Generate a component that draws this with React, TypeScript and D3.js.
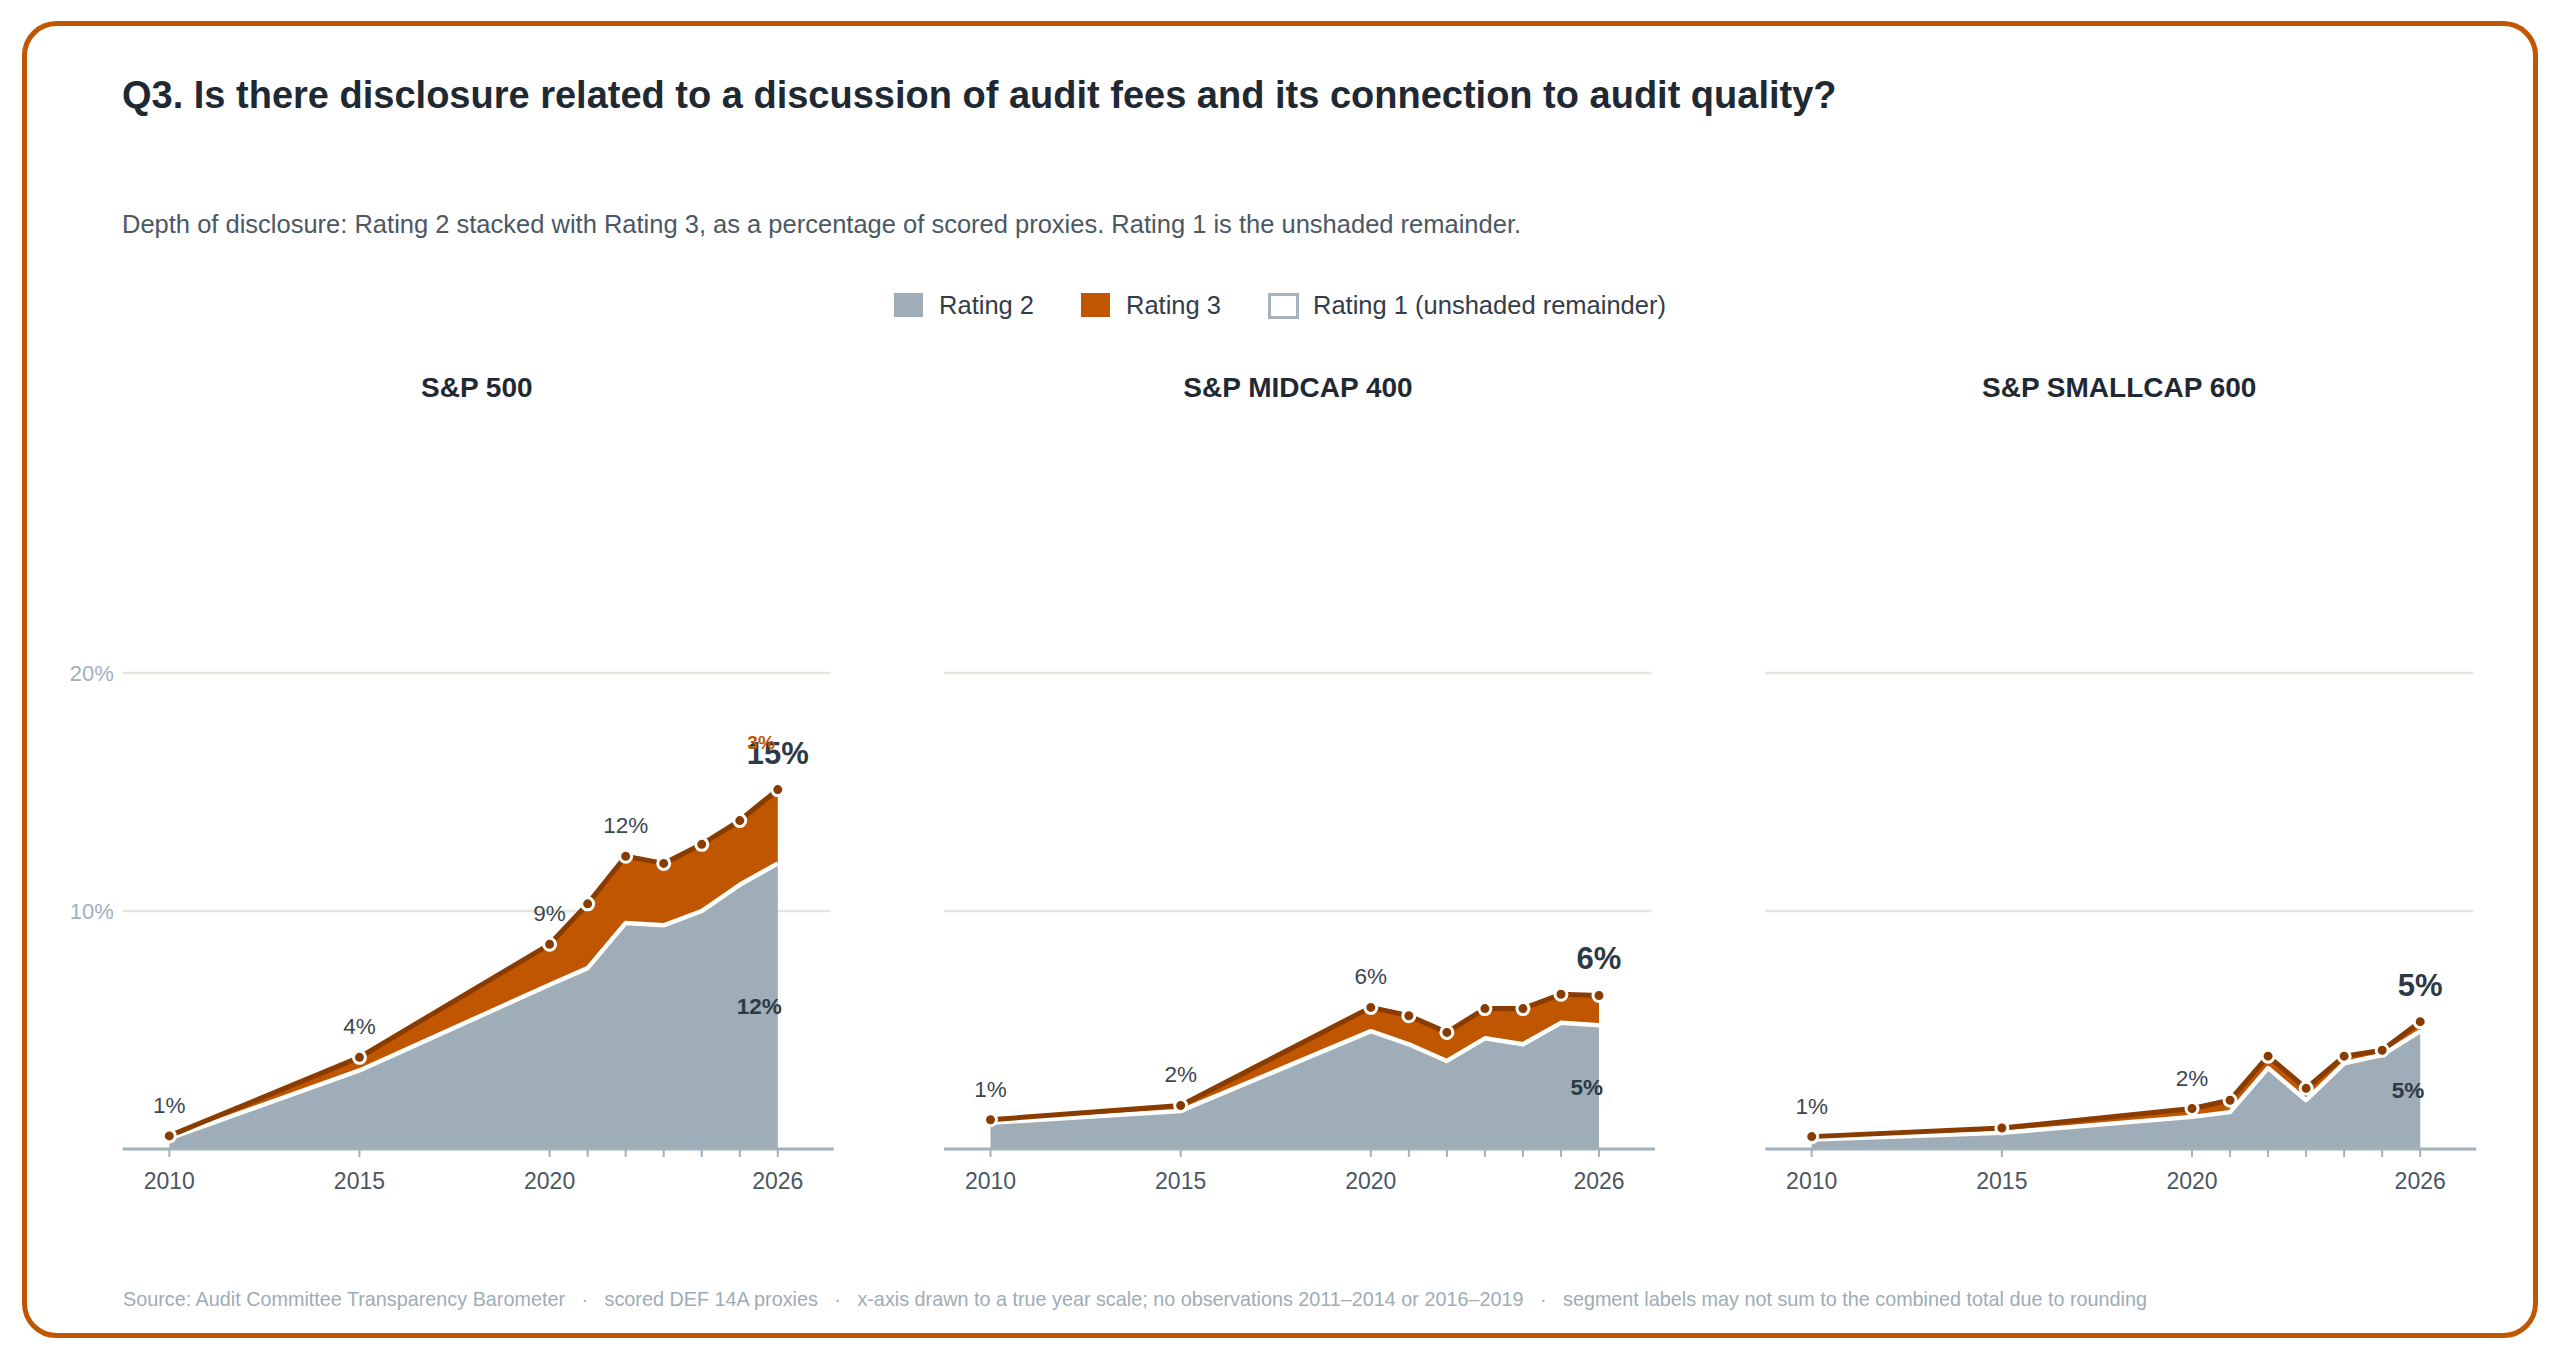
import React, { useEffect, useRef } from 'react';
import * as d3 from 'd3';

const years = [2010, 2015, 2020, 2021, 2022, 2023, 2024, 2025, 2026];
const panelNames = ['S&P 500', 'S&P MIDCAP 400', 'S&P SMALLCAP 600'];

// share of scored proxies, in percent
const sp500Rating2 = [0.45, 3.3, 6.9, 7.6, 9.5, 9.4, 10.0, 11.1, 12.0];
const sp500Rating3 = [0.1, 0.55, 1.7, 2.7, 2.8, 2.6, 2.8, 2.7, 3.1];
const midcapRating2 = [1.1, 1.6, 4.95, 4.4, 3.7, 4.65, 4.4, 5.3, 5.2];
const midcapRating3 = [0.13, 0.23, 1.0, 1.2, 1.2, 1.25, 1.5, 1.2, 1.25];
const smallcapRating2 = [0.4, 0.68, 1.35, 1.55, 3.4, 2.05, 3.6, 3.95, 4.95];
const smallcapRating3 = [0.12, 0.2, 0.35, 0.5, 0.5, 0.5, 0.3, 0.2, 0.4];

// years that carry a point label (the last year always gets the big one)
const labelledYears = [
  [2010, 2015, 2020, 2022],
  [2010, 2015, 2020],
  [2010, 2020],
];
const showRating3Label = [true, false, false];

const yTicks = [10, 20];
const xTickLabels = [2010, 2015, 2020, 2026];
const legendItems = ['Rating 2', 'Rating 3', 'Rating 1 (unshaded remainder)'];

const title =
  'Q3. Is there disclosure related to a discussion of audit fees and its connection to audit quality?';
const subtitle =
  'Depth of disclosure: Rating 2 stacked with Rating 3, as a percentage of scored proxies. Rating 1 is the unshaded remainder.';
const footer = [
  'Source: Audit Committee Transparency Barometer',
  'scored DEF 14A proxies',
  'x-axis drawn to a true year scale; no observations 2011–2014 or 2016–2019',
  'segment labels may not sum to the combined total due to rounding',
].join('\u00a0\u00a0 · \u00a0\u00a0');

const FONT = '"Liberation Sans", Arial, Helvetica, sans-serif';
const ORANGE = '#c05600';
const BROWN = '#8a3c00';
const GREY = '#9eadb7';
const INK = '#1f2933';

const App: React.FC = () => {
  const ref = useRef<SVGSVGElement>(null);

  useEffect(() => {
    document.body.style.margin = '0';
    const svg = d3.select(ref.current!);
    svg.selectAll('*').remove();

    const W = 2560;
    const H = 1360;
    svg.attr('width', W).attr('height', H).style('display', 'block');

    svg
      .append('rect')
      .attr('x', 24.5)
      .attr('y', 23.5)
      .attr('width', W - 49)
      .attr('height', H - 48)
      .attr('rx', 32)
      .attr('fill', '#fff')
      .attr('stroke', ORANGE)
      .attr('stroke-width', 5);

    svg
      .append('text')
      .attr('x', 122)
      .attr('y', 108)
      .attr('font-family', FONT)
      .attr('font-size', 38)
      .attr('font-weight', 700)
      .attr('fill', INK)
      .text(title);

    svg
      .append('text')
      .attr('x', 122)
      .attr('y', 233)
      .attr('font-family', FONT)
      .attr('font-size', 25.5)
      .attr('fill', '#4b5863')
      .text(subtitle);

    // Legend, centred on the page
    const legend = svg.append('g');
    let lx = 0;
    legendItems.forEach((name, i) => {
      const g = legend.append('g').attr('transform', `translate(${lx},0)`);
      g.append('rect')
        .attr('x', i === 2 ? 1.5 : 0)
        .attr('y', i === 2 ? 1.5 : 0)
        .attr('width', i === 2 ? 28 : 29)
        .attr('height', i === 2 ? 23 : 24)
        .attr('fill', i === 0 ? GREY : i === 1 ? ORANGE : '#fff')
        .attr('stroke', i === 2 ? '#a7b4be' : 'none')
        .attr('stroke-width', 3);
      const t = g
        .append('text')
        .attr('x', 45)
        .attr('y', 20.5)
        .attr('font-family', FONT)
        .attr('font-size', 25.5)
        .attr('fill', '#333d47')
        .text(name);
      const tw = (t.node() as SVGTextElement).getComputedTextLength();
      lx += 45 + tw + 47;
    });
    const legendWidth = lx - 47;
    legend.attr('transform', `translate(${(W - legendWidth) / 2},293)`);

    const rating2 = [sp500Rating2, midcapRating2, smallcapRating2];
    const rating3 = [sp500Rating3, midcapRating3, smallcapRating3];

    const y = d3.scaleLinear().domain([0, 20]).range([1149, 673]);
    const panelWidth = 708;

    panelNames.forEach((name, p) => {
      const left = 122.8 + p * 821.2;
      const right = left + panelWidth;
      const x = d3
        .scaleLinear()
        .domain([2010, 2026])
        .range([left + 46.5, left + 655]);

      const data = years.map((year, i) => ({
        year,
        r2: rating2[p][i],
        r3: rating3[p][i],
        total: rating2[p][i] + rating3[p][i],
      }));
      type Row = (typeof data)[number];

      const g = svg.append('g');

      g.append('text')
        .attr('x', (left + right) / 2)
        .attr('y', 396.5)
        .attr('text-anchor', 'middle')
        .attr('font-family', FONT)
        .attr('font-size', 28)
        .attr('font-weight', 700)
        .attr('fill', INK)
        .text(name);

      // gridlines
      g.selectAll('.grid')
        .data(yTicks)
        .enter()
        .append('line')
        .attr('x1', left)
        .attr('x2', right)
        .attr('y1', (d) => y(d))
        .attr('y2', (d) => y(d))
        .attr('stroke', '#e6e6e0')
        .attr('stroke-width', 2.5);

      if (p === 0) {
        g.selectAll('.ylab')
          .data(yTicks)
          .enter()
          .append('text')
          .attr('x', left - 9)
          .attr('y', (d) => y(d))
          .attr('dy', '0.35em')
          .attr('text-anchor', 'end')
          .attr('font-family', FONT)
          .attr('font-size', 22)
          .attr('fill', '#9fb0bc')
          .text((d) => `${d}%`);
      }

      const grey = d3
        .area<Row>()
        .x((d) => x(d.year))
        .y0(y(0))
        .y1((d) => y(d.r2));
      const orange = d3
        .area<Row>()
        .x((d) => x(d.year))
        .y0((d) => y(d.r2))
        .y1((d) => y(d.total));
      const r2Line = d3
        .line<Row>()
        .x((d) => x(d.year))
        .y((d) => y(d.r2));
      const topLine = d3
        .line<Row>()
        .x((d) => x(d.year))
        .y((d) => y(d.total));

      g.append('path').datum(data).attr('d', grey).attr('fill', GREY);
      g.append('path').datum(data).attr('d', orange).attr('fill', ORANGE);
      g.append('path')
        .datum(data)
        .attr('d', r2Line)
        .attr('fill', 'none')
        .attr('stroke', '#fff')
        .attr('stroke-width', 4.5)
        .attr('stroke-linejoin', 'round');
      g.append('path')
        .datum(data)
        .attr('d', topLine)
        .attr('fill', 'none')
        .attr('stroke', BROWN)
        .attr('stroke-width', 5)
        .attr('stroke-linejoin', 'round');

      // x axis
      g.append('line')
        .attr('x1', left)
        .attr('x2', right + 3)
        .attr('y1', y(0))
        .attr('y2', y(0))
        .attr('stroke', '#a3b1bb')
        .attr('stroke-width', 3);
      g.selectAll('.tick')
        .data(years)
        .enter()
        .append('line')
        .attr('x1', (d) => x(d))
        .attr('x2', (d) => x(d))
        .attr('y1', y(0))
        .attr('y2', y(0) + 8)
        .attr('stroke', '#a3b1bb')
        .attr('stroke-width', 2);
      g.selectAll('.xlab')
        .data(xTickLabels)
        .enter()
        .append('text')
        .attr('x', (d) => x(d))
        .attr('y', 1189)
        .attr('text-anchor', 'middle')
        .attr('font-family', FONT)
        .attr('font-size', 23)
        .attr('fill', '#4b5663')
        .text((d) => d);

      g.selectAll('.pt')
        .data(data)
        .enter()
        .append('circle')
        .attr('cx', (d) => x(d.year))
        .attr('cy', (d) => y(d.total))
        .attr('r', 6)
        .attr('fill', BROWN)
        .attr('stroke', '#fff')
        .attr('stroke-width', 3);

      g.selectAll('.plab')
        .data(data.filter((d) => labelledYears[p].includes(d.year)))
        .enter()
        .append('text')
        .attr('x', (d) => x(d.year))
        .attr('y', (d) => y(d.total) - 23)
        .attr('text-anchor', 'middle')
        .attr('font-family', FONT)
        .attr('font-size', 22.5)
        .attr('fill', '#3c4752')
        .text((d) => `${Math.round(d.total)}%`);

      const last = data[data.length - 1];
      g.append('text')
        .attr('x', x(last.year))
        .attr('y', y(last.total) - 26)
        .attr('text-anchor', 'middle')
        .attr('font-family', FONT)
        .attr('font-size', 31)
        .attr('font-weight', 700)
        .attr('fill', '#2d3a45')
        .text(`${Math.round(last.total)}%`);

      g.append('text')
        .attr('x', x(last.year) + 4)
        .attr('y', y(last.r2 / 2))
        .attr('dy', '0.35em')
        .attr('text-anchor', 'end')
        .attr('font-family', FONT)
        .attr('font-size', 22.5)
        .attr('font-weight', 700)
        .attr('fill', '#2d3a45')
        .text(`${Math.round(last.r2)}%`);

      if (showRating3Label[p]) {
        g.append('text')
          .attr('x', x(last.year) - 3)
          .attr('y', y(last.total) - 41)
          .attr('text-anchor', 'end')
          .attr('font-family', FONT)
          .attr('font-size', 19)
          .attr('font-weight', 700)
          .attr('fill', ORANGE)
          .text(`${Math.round(last.r3)}%`);
      }
    });

    svg
      .append('text')
      .attr('x', 123)
      .attr('y', 1306)
      .attr('font-family', FONT)
      .attr('font-size', 19.8)
      .attr('fill', '#a0acb5')
      .text(footer);
  }, []);

  return <svg ref={ref} />;
};

export default App;
